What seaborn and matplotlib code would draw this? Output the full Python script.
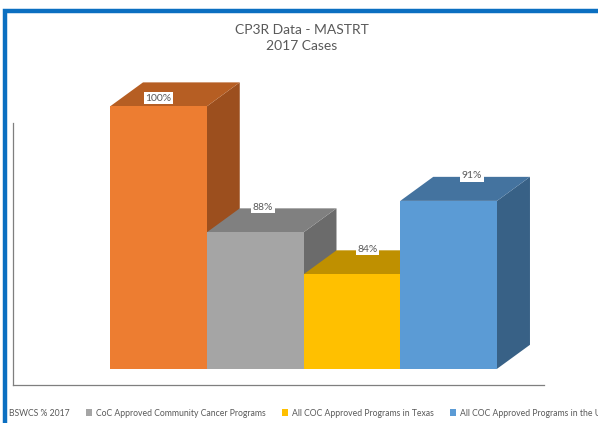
import matplotlib
matplotlib.use("Agg")
import matplotlib.pyplot as plt
import seaborn as sns
import pandas as pd
from matplotlib.patches import Polygon, Patch, Rectangle

# data
categories = ["BSWCS % 2017",
              "CoC Approved Community Cancer Programs",
              "All COC Approved Programs in Texas",
              "All COC Approved Programs in the US"]
values = [100, 88, 84, 91]
labels = ["100%", "88%", "84%", "91%"]

front_colors = ["#ED7D31", "#A5A5A5", "#FFC000", "#5B9BD5"]
top_colors = ["#B65E23", "#808080", "#BF9000", "#44739F"]
side_colors = ["#9C4F1E", "#6B6B6B", "#A37A00", "#386186"]

floor = 75
depth_x = 0.341
depth_y = 2.29

sns.set_style("white")
plt.rcParams["font.family"] = ["Lato", "DejaVu Sans"]

fig = plt.figure(figsize=(5.98, 4.23), dpi=100)
ax = fig.add_axes([13 / 598, 38 / 423, 531 / 598, 262 / 423])

df = pd.DataFrame({"cat": categories, "val": values})
sns.barplot(data=df, x="cat", y="val", hue="cat", palette=front_colors,
            width=1.0, legend=False, ax=ax, saturation=1)

ax.set_xlim(-1.503, 3.986)
ax.set_ylim(73.46, 98.42)

for i, p in enumerate(ax.patches):
    x0 = p.get_x()
    w = p.get_width()
    v = values[i]
    p.set_y(floor)
    p.set_height(v - floor)
    p.set_clip_on(False)
    p.set_linewidth(0)
    p.set_zorder(3 + i * 3)
    top = Polygon([(x0, v), (x0 + w, v), (x0 + w + depth_x, v + depth_y),
                   (x0 + depth_x, v + depth_y)], closed=True,
                  facecolor=top_colors[i], edgecolor="none",
                  clip_on=False, zorder=2 + i * 3)
    side = Polygon([(x0 + w, floor), (x0 + w + depth_x, floor + depth_y),
                    (x0 + w + depth_x, v + depth_y), (x0 + w, v)], closed=True,
                   facecolor=side_colors[i], edgecolor="none",
                   clip_on=False, zorder=1 + i * 3)
    ax.add_patch(top)
    ax.add_patch(side)
    ly = min(v + depth_y * 1.05, 100.8)
    ax.text(i + 0.08 * i, ly, labels[i], ha="center", va="center",
            fontsize=7.5, color="#595959", zorder=20, clip_on=False,
            bbox=dict(facecolor="white", edgecolor="none", pad=1.2))

ax.set_xticks([])
ax.set_yticks([])
ax.set_xlabel("")
ax.set_ylabel("")
for s in ["top", "right"]:
    ax.spines[s].set_visible(False)
for s in ["left", "bottom"]:
    ax.spines[s].set_color("#7F7F7F")
    ax.spines[s].set_linewidth(0.9)

fig.text(0.505, 385 / 423, "CP3R Data - MASTRT\n2017 Cases", ha="center",
         va="center", fontsize=10, color="#595959", linespacing=1.3)

handles = [Patch(facecolor=c, edgecolor="none") for c in front_colors]
fig.legend(handles, categories, loc="center left",
           bbox_to_anchor=(-1 / 598, 10 / 423), ncol=4, frameon=False,
           fontsize=6.2, labelcolor="#595959", handlelength=0.7,
           handleheight=0.7, handletextpad=0.45, columnspacing=1.9,
           borderpad=0, borderaxespad=0)

# blue frame, drawn over the legend edge
fig.patches.append(Rectangle((0, -0.1), 5 / 598 + 1.5 / 598, 1.2,
                             transform=fig.transFigure, facecolor="white",
                             edgecolor="none", zorder=9))
fig.patches.append(Rectangle((5 / 598, -0.1), 1.2, 0.1 + 412 / 423,
                             transform=fig.transFigure, fill=False,
                             edgecolor="#0B6FC1", linewidth=3.2, zorder=10))

fig.savefig("out.png", dpi=100)
